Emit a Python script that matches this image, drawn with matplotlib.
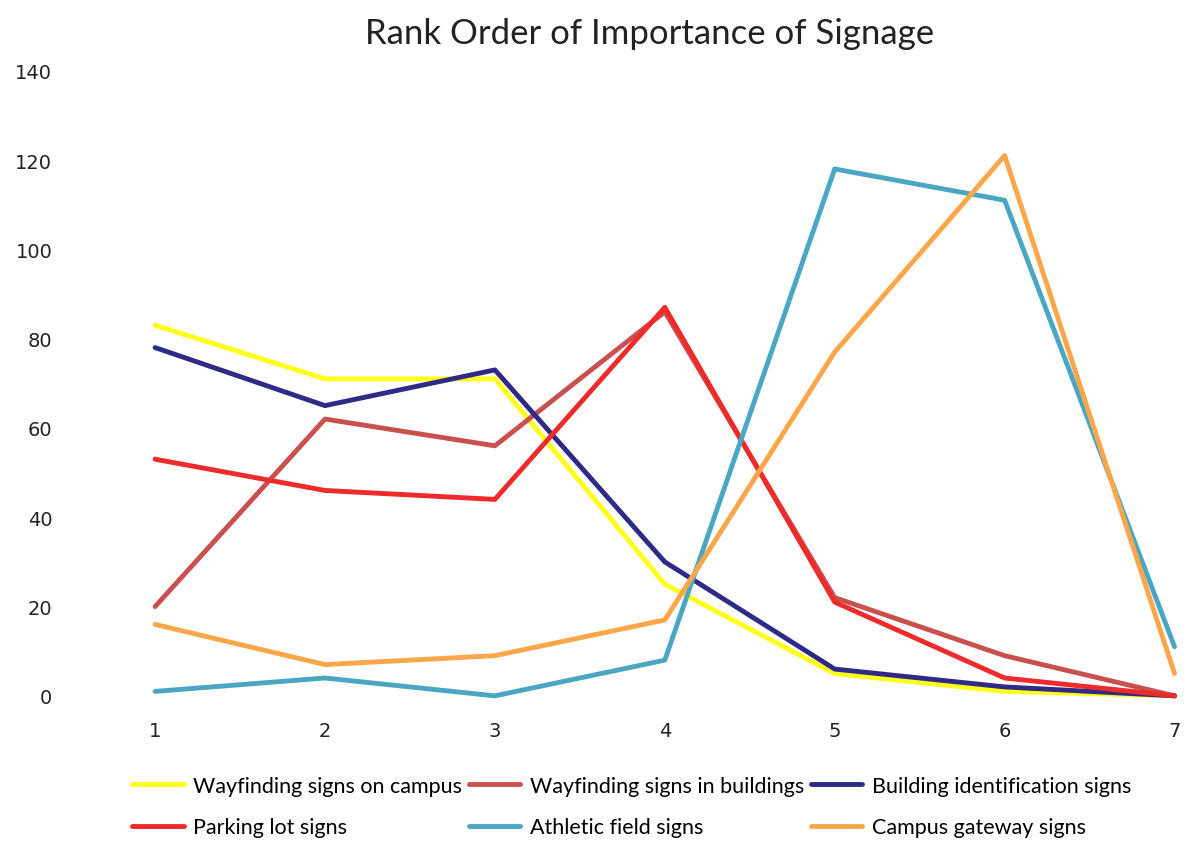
import matplotlib
matplotlib.use("Agg")
import matplotlib.pyplot as plt

# rank positions
ranks = [1, 2, 3, 4, 5, 6, 7]

# counts per rank
wayfinding_campus = [83, 71, 71, 25, 5, 1, 0]
wayfinding_buildings = [20, 62, 56, 86, 22, 9, 0]
building_id = [78, 65, 73, 30, 6, 2, 0]
parking_lot = [53, 46, 44, 87, 21, 4, 0]
athletic_field = [1, 4, 0, 8, 118, 111, 11]
campus_gateway = [16, 7, 9, 17, 77, 121, 5]

series = [
    ("Wayfinding signs on campus", wayfinding_campus, "#FFFF1A"),
    ("Wayfinding signs in buildings", wayfinding_buildings, "#C8504F"),
    ("Building identification signs", building_id, "#2E2A86"),
    ("Parking lot signs", parking_lot, "#EE2A2A"),
    ("Athletic field signs", athletic_field, "#4BA6C4"),
    ("Campus gateway signs", campus_gateway, "#FBA64A"),
]
y_ticks = [0, 20, 40, 60, 80, 100, 120, 140]

fig = plt.figure(figsize=(11.84, 8.54), dpi=100)
ax = fig.add_axes([0.131, 0.184, 0.861, 0.732])

for name, vals, col in series:
    ax.plot(ranks, vals, color=col, linewidth=3.5, label=name,
            solid_capstyle="round", clip_on=False)

ax.set_xlim(1, 7)
ax.set_ylim(0, 140)
ax.set_xticks(ranks)
ax.set_yticks(y_ticks)
ax.tick_params(axis="y", length=0, pad=74, labelsize=14, labelcolor="#222222")
ax.tick_params(axis="x", length=0, pad=18, labelsize=14, labelcolor="#222222")
for s in ax.spines.values():
    s.set_visible(False)

ax.set_title("Rank Order of Importance of Signage", fontsize=25,
             family="Lato", color="#222222", pad=20, x=0.485)

# legend: fill rows first (3 per row), matplotlib fills columns, so reorder
order = [0, 3, 1, 4, 2, 5]
handles, labels = ax.get_legend_handles_labels()
fig.legend([handles[i] for i in order], [labels[i] for i in order],
           ncol=3, loc="upper left", bbox_to_anchor=(0.095, 0.113),
           frameon=False, prop={"family": "Lato", "size": 15.5},
           handlelength=2.4, handletextpad=0.45, columnspacing=0.3,
           labelspacing=1.0)

fig.savefig("out.png", dpi=100)
